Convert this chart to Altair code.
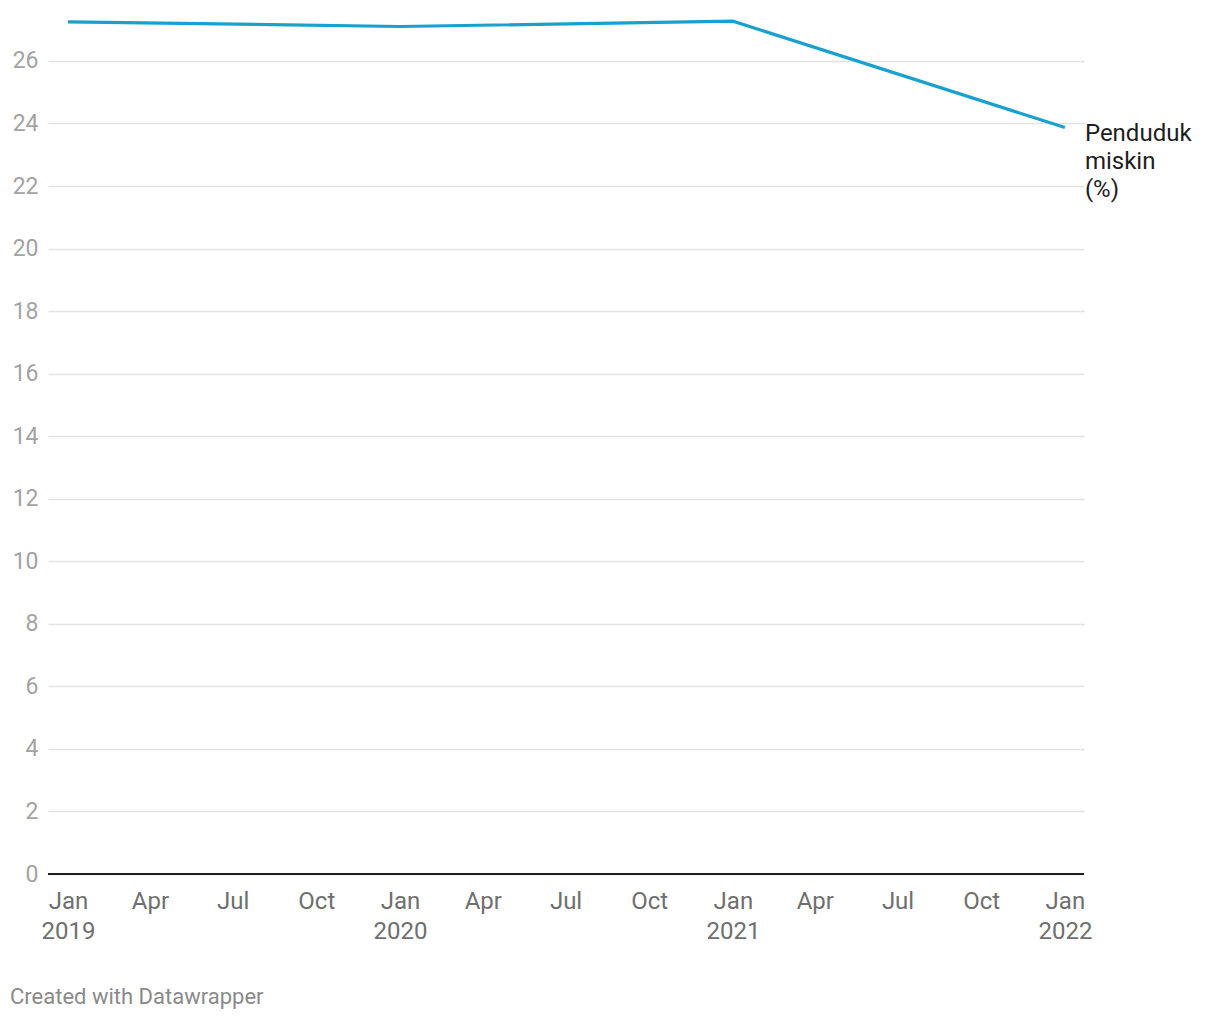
import altair as alt
import pandas as pd

# ---- data ----
dates = ["2019-01-01", "2020-01-01", "2021-01-01", "2022-01-01"]
values = [27.25, 27.10, 27.27, 23.87]
series_label = ["Penduduk", "miskin", "(%)"]
y_ticks = list(range(0, 27, 2))
x_tick_months = [(2019, 1), (2019, 4), (2019, 7), (2019, 10),
                 (2020, 1), (2020, 4), (2020, 7), (2020, 10),
                 (2021, 1), (2021, 4), (2021, 7), (2021, 10),
                 (2022, 1)]
footer_text = "Created with Datawrapper"

FONT = "Roboto"
LINE_COLOR = "#18a1cd"

df = pd.DataFrame({"date": dates, "value": values})
last_df = df.tail(1)
footer_df = pd.DataFrame({"t": [footer_text]})
zero_df = pd.DataFrame({"y": [0]})

x_ticks = [alt.DateTime(year=y, month=m, date=1, utc=True) for y, m in x_tick_months]

x_scale = alt.Scale(
    type="utc",
    domain=[alt.DateTime(year=2018, month=12, date=10, utc=True),
            alt.DateTime(year=2022, month=1, date=22, utc=True)],
)
y_scale = alt.Scale(domain=[0, 27.5], nice=False, zero=True)

x_enc = alt.X(
    "date:T",
    scale=x_scale,
    axis=alt.Axis(
        values=x_ticks,
        labelExpr="utcFormat(datum.value, '%m') == '01' ? ['Jan', utcFormat(datum.value, '%Y')] : utcFormat(datum.value, '%b')",
        domain=False,
        ticks=False,
        grid=False,
        title=None,
        labelFont=FONT,
        labelFontSize=24,
        labelColor="#6f6f6f",
        labelPadding=15,
        labelLineHeight=30,
        labelAlign="center",
        labelBaseline="top",
        labelFlush=False,
        labelOverlap=False,
    ),
)
y_enc = alt.Y(
    "value:Q",
    scale=y_scale,
    axis=alt.Axis(
        values=y_ticks,
        domain=False,
        ticks=False,
        grid=True,
        gridColor="#e3e3e3",
        gridWidth=1.3,
        title=None,
        labelFont=FONT,
        labelFontSize=23,
        labelColor="#a3a3a3",
        labelPadding=10,
    ),
)

line = alt.Chart(df).mark_line(color=LINE_COLOR, strokeWidth=3.2).encode(x=x_enc, y=y_enc)

zero = alt.Chart(zero_df).mark_rule(color="#1d1d1d", strokeWidth=2).encode(
    y=alt.Y("y:Q", scale=y_scale),
    x=alt.value(0),
    x2=alt.value(1036),
)

label = alt.Chart(last_df).mark_text(
    text=series_label,
    align="left",
    baseline="top",
    dx=20,
    dy=-6,
    font=FONT,
    fontSize=24,
    lineHeight=28,
    color="#1d1d1d",
).encode(
    x=alt.X("date:T", scale=x_scale),
    y=alt.Y("value:Q", scale=y_scale),
)

footer = alt.Chart(footer_df).mark_text(
    align="left", baseline="middle", font=FONT, fontSize=22, color="#8a8a8a"
).encode(
    text="t:N",
    x=alt.value(-38),
    y=alt.value(983),
)

chart = alt.layer(zero, line, label, footer).properties(
    width=1036,
    height=860,
    background="white",
    autosize=alt.AutoSizeParams(type="none"),
    padding={"left": 40, "top": 6, "right": 120, "bottom": 145},
).configure_view(strokeWidth=0, stroke="transparent")

chart.save("out.html", embed_options={"renderer": "svg", "actions": False})
